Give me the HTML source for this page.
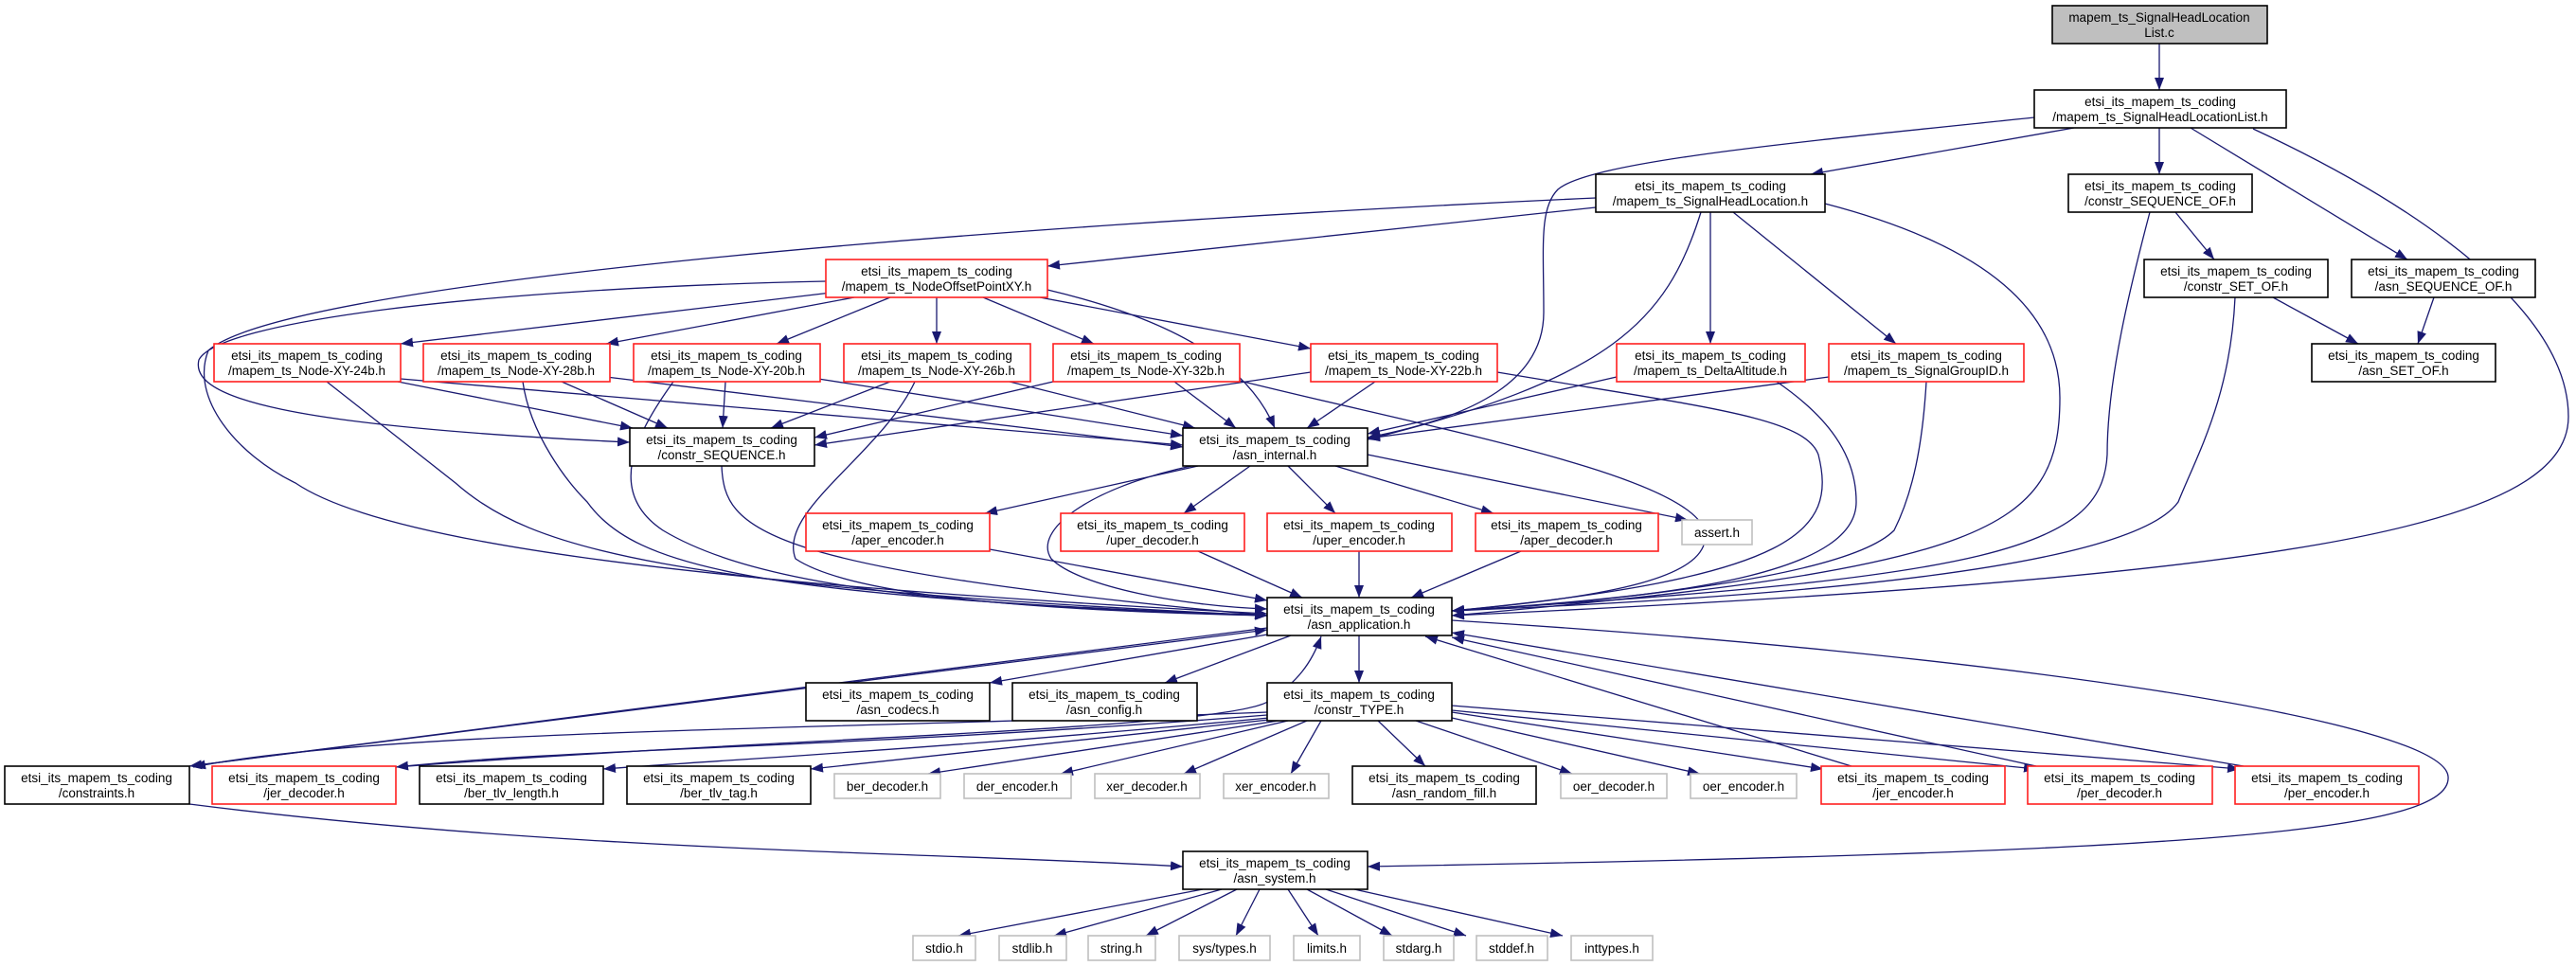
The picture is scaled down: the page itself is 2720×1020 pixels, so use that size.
<!DOCTYPE html>
<html><head><meta charset="utf-8"><style>
html,body{margin:0;padding:0;background:#fff;}
svg{display:block;}
text{font-family:"Liberation Sans",sans-serif;font-size:13.5px;fill:#000;text-anchor:middle;}
.b{fill:#fff;stroke:#000;stroke-width:1.6;}
.r{fill:#fff;stroke:#ff2020;stroke-width:1.6;}
.g{fill:#fff;stroke:#bfbfbf;stroke-width:1.6;}
.e{fill:none;stroke:#191970;stroke-width:1.3;marker-end:url(#a);}
</style></head><body>
<svg width="2720" height="1020" viewBox="0 0 2720 1020" xmlns="http://www.w3.org/2000/svg">
<defs><marker id="a" markerUnits="userSpaceOnUse" markerWidth="14" markerHeight="10" refX="13" refY="5" orient="auto"><path d="M0,0 L13,5 L0,10 z" fill="#191970"/></marker></defs>
<g>
<path class="e" d="M2280,46 L2280,95"/>
<path class="e" d="M2190,135 L1912,184"/>
<path class="e" d="M2280,135 L2280,184"/>
<path class="e" d="M2313,135 L2542,274"/>
<path class="e" d="M2148,124 C1900,150 1680,170 1645,200 C1625,220 1630,260 1630,330 C1630,400 1560,440 1444,462"/>
<path class="e" d="M2379,136 C2560,220 2712,330 2712,440 C2712,560 2400,610 1533,650"/>
<path class="e" d="M1685,219 L1106,281"/>
<path class="e" d="M1685,209 C1000,240 300,300 220,370 C200,420 250,480 312,510 C400,570 700,615 1338,648"/>
<path class="e" d="M872,297 C500,305 230,340 210,380 C200,420 300,450 665,467"/>
<path class="e" d="M1927,215 C2100,260 2175,330 2175,420 C2175,560 2100,600 1533,650"/>
<path class="e" d="M1796,224 C1760,340 1700,400 1444,464"/>
<path class="e" d="M1806,224 L1806,363"/>
<path class="e" d="M1830,224 L2002,363"/>
<path class="e" d="M886,308 L423,363"/>
<path class="e" d="M902,314 L640,363"/>
<path class="e" d="M940,314 L820,363"/>
<path class="e" d="M989,314 L989,363"/>
<path class="e" d="M1038,314 L1155,363"/>
<path class="e" d="M1098,314 L1384,368"/>
<path class="e" d="M1106,306 C1250,340 1320,390 1346,452"/>
<path class="e" d="M420,403 L668,452"/>
<path class="e" d="M423,400 L1249,470"/>
<path class="e" d="M345,403 L481,510 C560,580 700,620 1338,650"/>
<path class="e" d="M593,403 L705,452"/>
<path class="e" d="M640,398 L1249,472"/>
<path class="e" d="M552,403 C560,460 600,510 620,530 C670,600 800,630 1338,650"/>
<path class="e" d="M766,403 L763,452"/>
<path class="e" d="M864,400 L1249,460"/>
<path class="e" d="M711,403 C670,460 640,520 700,560 C800,620 1000,640 1338,650"/>
<path class="e" d="M940,403 L814,452"/>
<path class="e" d="M1066,403 L1262,452"/>
<path class="e" d="M966,403 C930,480 820,540 840,590 C900,630 1100,645 1338,650"/>
<path class="e" d="M1112,403 L860,462"/>
<path class="e" d="M1240,403 L1305,452"/>
<path class="e" d="M1309,402 C1500,450 1780,500 1800,560 C1810,610 1700,630 1533,645"/>
<path class="e" d="M1384,393 L860,470"/>
<path class="e" d="M1452,403 L1380,452"/>
<path class="e" d="M1581,393 C1800,430 1905,440 1920,480 C1940,560 1900,610 1533,645"/>
<path class="e" d="M1707,398 L1444,458"/>
<path class="e" d="M1876,403 C1930,440 1960,480 1960,530 C1960,600 1800,630 1533,645"/>
<path class="e" d="M1931,398 L1444,463"/>
<path class="e" d="M2034,403 C2030,470 2020,520 2000,560 C1950,610 1700,635 1533,645"/>
<path class="e" d="M762,492 C765,560 800,600 1338,650"/>
<path class="e" d="M2297,224 L2338,274"/>
<path class="e" d="M2270,224 C2250,300 2225,400 2225,480 C2220,580 2100,610 1533,645"/>
<path class="e" d="M2400,314 L2490,363"/>
<path class="e" d="M2360,314 C2355,420 2320,480 2300,530 C2250,600 1900,630 1533,645"/>
<path class="e" d="M2570,314 L2553,363"/>
<path class="e" d="M1265,492 L1040,542"/>
<path class="e" d="M1320,492 L1250,542"/>
<path class="e" d="M1360,492 L1410,542"/>
<path class="e" d="M1410,492 L1577,542"/>
<path class="e" d="M1444,480 L1782,549"/>
<path class="e" d="M1258,492 C1150,515 1090,560 1110,590 C1140,620 1250,640 1338,643"/>
<path class="e" d="M1045,580 L1338,634"/>
<path class="e" d="M1265,582 L1375,631"/>
<path class="e" d="M1435,582 L1435,631"/>
<path class="e" d="M1606,582 L1490,631"/>
<path class="e" d="M1338,670 L1045,721"/>
<path class="e" d="M1363,671 L1230,721"/>
<path class="e" d="M1435,671 L1435,721"/>
<path class="e" d="M1338,663 L200,809"/>
<path class="e" d="M200,809 L1338,665"/>
<path class="e" d="M1533,655 C2100,690 2580,760 2585,820 C2590,880 2300,900 1444,915"/>
<path class="e" d="M200,849 C600,900 1000,900 1249,915"/>
<path class="e" d="M1338,752 C900,770 400,770 204,810"/>
<path class="e" d="M1338,755 C900,790 600,790 418,810"/>
<path class="e" d="M1340,758 C1000,790 800,800 637,812"/>
<path class="e" d="M1340,760 L856,812"/>
<path class="e" d="M1350,761 L980,817"/>
<path class="e" d="M1360,761 L1120,817"/>
<path class="e" d="M1380,761 L1250,817"/>
<path class="e" d="M1395,761 L1363,817"/>
<path class="e" d="M1455,761 L1505,809"/>
<path class="e" d="M1495,761 L1660,817"/>
<path class="e" d="M1533,758 L1795,817"/>
<path class="e" d="M1533,752 L1925,812"/>
<path class="e" d="M1533,750 L2150,812"/>
<path class="e" d="M1533,745 L2365,812"/>
<path class="e" d="M418,810 C800,780 1300,770 1340,740 C1370,720 1385,700 1395,672"/>
<path class="e" d="M1955,809 L1505,672"/>
<path class="e" d="M2150,809 L1533,673"/>
<path class="e" d="M2369,809 L1533,668"/>
<path class="e" d="M1270,939 L1012,988"/>
<path class="e" d="M1290,939 L1113,988"/>
<path class="e" d="M1306,939 L1210,988"/>
<path class="e" d="M1330,939 L1305,988"/>
<path class="e" d="M1360,939 L1392,988"/>
<path class="e" d="M1380,939 L1470,988"/>
<path class="e" d="M1400,939 L1548,988"/>
<path class="e" d="M1430,939 L1650,988"/>
</g>
<g>
<rect x="2167" y="6" width="227" height="40" style="fill:#bfbfbf;stroke:#000;stroke-width:1.6"/><text x="2280" y="23">mapem_ts_SignalHeadLocation</text><text x="2280" y="39">List.c</text>
<rect class="b" x="2148" y="95" width="266" height="40"/><text x="2281" y="112">etsi_its_mapem_ts_coding</text><text x="2281" y="128">/mapem_ts_SignalHeadLocationList.h</text>
<rect class="b" x="1685" y="184" width="242" height="40"/><text x="1806" y="201">etsi_its_mapem_ts_coding</text><text x="1806" y="217">/mapem_ts_SignalHeadLocation.h</text>
<rect class="b" x="2184" y="184" width="194" height="40"/><text x="2281" y="201">etsi_its_mapem_ts_coding</text><text x="2281" y="217">/constr_SEQUENCE_OF.h</text>
<rect class="b" x="2264" y="274" width="194" height="40"/><text x="2361" y="291">etsi_its_mapem_ts_coding</text><text x="2361" y="307">/constr_SET_OF.h</text>
<rect class="b" x="2483" y="274" width="194" height="40"/><text x="2580" y="291">etsi_its_mapem_ts_coding</text><text x="2580" y="307">/asn_SEQUENCE_OF.h</text>
<rect class="b" x="2441" y="363" width="194" height="40"/><text x="2538" y="380">etsi_its_mapem_ts_coding</text><text x="2538" y="396">/asn_SET_OF.h</text>
<rect class="r" x="872" y="274" width="234" height="40"/><text x="989" y="291">etsi_its_mapem_ts_coding</text><text x="989" y="307">/mapem_ts_NodeOffsetPointXY.h</text>
<rect class="r" x="226" y="363" width="197" height="40"/><text x="324" y="380">etsi_its_mapem_ts_coding</text><text x="324" y="396">/mapem_ts_Node-XY-24b.h</text>
<rect class="r" x="447" y="363" width="197" height="40"/><text x="545" y="380">etsi_its_mapem_ts_coding</text><text x="545" y="396">/mapem_ts_Node-XY-28b.h</text>
<rect class="r" x="669" y="363" width="197" height="40"/><text x="767" y="380">etsi_its_mapem_ts_coding</text><text x="767" y="396">/mapem_ts_Node-XY-20b.h</text>
<rect class="r" x="891" y="363" width="197" height="40"/><text x="989" y="380">etsi_its_mapem_ts_coding</text><text x="989" y="396">/mapem_ts_Node-XY-26b.h</text>
<rect class="r" x="1112" y="363" width="197" height="40"/><text x="1210" y="380">etsi_its_mapem_ts_coding</text><text x="1210" y="396">/mapem_ts_Node-XY-32b.h</text>
<rect class="r" x="1384" y="363" width="197" height="40"/><text x="1482" y="380">etsi_its_mapem_ts_coding</text><text x="1482" y="396">/mapem_ts_Node-XY-22b.h</text>
<rect class="r" x="1707" y="363" width="199" height="40"/><text x="1806" y="380">etsi_its_mapem_ts_coding</text><text x="1806" y="396">/mapem_ts_DeltaAltitude.h</text>
<rect class="r" x="1931" y="363" width="206" height="40"/><text x="2034" y="380">etsi_its_mapem_ts_coding</text><text x="2034" y="396">/mapem_ts_SignalGroupID.h</text>
<rect class="b" x="665" y="452" width="195" height="40"/><text x="762" y="469">etsi_its_mapem_ts_coding</text><text x="762" y="485">/constr_SEQUENCE.h</text>
<rect class="b" x="1249" y="452" width="195" height="40"/><text x="1346" y="469">etsi_its_mapem_ts_coding</text><text x="1346" y="485">/asn_internal.h</text>
<rect class="r" x="851" y="542" width="194" height="40"/><text x="948" y="559">etsi_its_mapem_ts_coding</text><text x="948" y="575">/aper_encoder.h</text>
<rect class="r" x="1120" y="542" width="194" height="40"/><text x="1217" y="559">etsi_its_mapem_ts_coding</text><text x="1217" y="575">/uper_decoder.h</text>
<rect class="r" x="1338" y="542" width="195" height="40"/><text x="1435" y="559">etsi_its_mapem_ts_coding</text><text x="1435" y="575">/uper_encoder.h</text>
<rect class="r" x="1558" y="542" width="193" height="40"/><text x="1654" y="559">etsi_its_mapem_ts_coding</text><text x="1654" y="575">/aper_decoder.h</text>
<rect class="g" x="1776" y="549" width="74" height="26"/><text x="1813" y="567">assert.h</text>
<rect class="b" x="1338" y="631" width="195" height="40"/><text x="1435" y="648">etsi_its_mapem_ts_coding</text><text x="1435" y="664">/asn_application.h</text>
<rect class="b" x="851" y="721" width="194" height="40"/><text x="948" y="738">etsi_its_mapem_ts_coding</text><text x="948" y="754">/asn_codecs.h</text>
<rect class="b" x="1069" y="721" width="195" height="40"/><text x="1166" y="738">etsi_its_mapem_ts_coding</text><text x="1166" y="754">/asn_config.h</text>
<rect class="b" x="1338" y="721" width="195" height="40"/><text x="1435" y="738">etsi_its_mapem_ts_coding</text><text x="1435" y="754">/constr_TYPE.h</text>
<rect class="b" x="5" y="809" width="195" height="40"/><text x="102" y="826">etsi_its_mapem_ts_coding</text><text x="102" y="842">/constraints.h</text>
<rect class="r" x="224" y="809" width="194" height="40"/><text x="321" y="826">etsi_its_mapem_ts_coding</text><text x="321" y="842">/jer_decoder.h</text>
<rect class="b" x="443" y="809" width="194" height="40"/><text x="540" y="826">etsi_its_mapem_ts_coding</text><text x="540" y="842">/ber_tlv_length.h</text>
<rect class="b" x="662" y="809" width="194" height="40"/><text x="759" y="826">etsi_its_mapem_ts_coding</text><text x="759" y="842">/ber_tlv_tag.h</text>
<rect class="g" x="881" y="817" width="112" height="26"/><text x="937" y="835">ber_decoder.h</text>
<rect class="g" x="1018" y="817" width="113" height="26"/><text x="1074" y="835">der_encoder.h</text>
<rect class="g" x="1156" y="817" width="111" height="26"/><text x="1211" y="835">xer_decoder.h</text>
<rect class="g" x="1292" y="817" width="111" height="26"/><text x="1347" y="835">xer_encoder.h</text>
<rect class="b" x="1428" y="809" width="194" height="40"/><text x="1525" y="826">etsi_its_mapem_ts_coding</text><text x="1525" y="842">/asn_random_fill.h</text>
<rect class="g" x="1648" y="817" width="112" height="26"/><text x="1704" y="835">oer_decoder.h</text>
<rect class="g" x="1785" y="817" width="112" height="26"/><text x="1841" y="835">oer_encoder.h</text>
<rect class="r" x="1923" y="809" width="194" height="40"/><text x="2020" y="826">etsi_its_mapem_ts_coding</text><text x="2020" y="842">/jer_encoder.h</text>
<rect class="r" x="2141" y="809" width="195" height="40"/><text x="2238" y="826">etsi_its_mapem_ts_coding</text><text x="2238" y="842">/per_decoder.h</text>
<rect class="r" x="2360" y="809" width="194" height="40"/><text x="2457" y="826">etsi_its_mapem_ts_coding</text><text x="2457" y="842">/per_encoder.h</text>
<rect class="b" x="1249" y="899" width="195" height="40"/><text x="1346" y="916">etsi_its_mapem_ts_coding</text><text x="1346" y="932">/asn_system.h</text>
<rect class="g" x="964" y="988" width="66" height="26"/><text x="997" y="1006">stdio.h</text>
<rect class="g" x="1055" y="988" width="71" height="26"/><text x="1090" y="1006">stdlib.h</text>
<rect class="g" x="1149" y="988" width="71" height="26"/><text x="1184" y="1006">string.h</text>
<rect class="g" x="1245" y="988" width="96" height="26"/><text x="1293" y="1006">sys/types.h</text>
<rect class="g" x="1366" y="988" width="70" height="26"/><text x="1401" y="1006">limits.h</text>
<rect class="g" x="1461" y="988" width="74" height="26"/><text x="1498" y="1006">stdarg.h</text>
<rect class="g" x="1559" y="988" width="75" height="26"/><text x="1596" y="1006">stddef.h</text>
<rect class="g" x="1659" y="988" width="86" height="26"/><text x="1702" y="1006">inttypes.h</text>
</g>
</svg>
</body></html>
